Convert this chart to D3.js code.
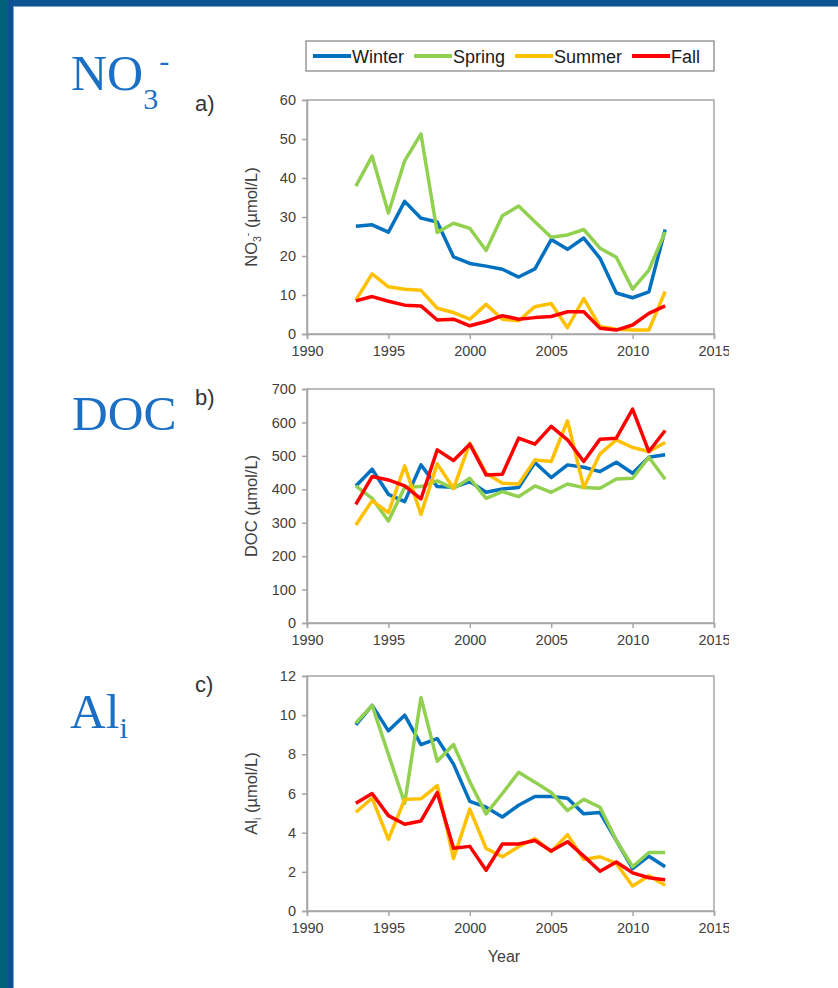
<!DOCTYPE html>
<html>
<head>
<meta charset="utf-8">
<script src="https://cdn.jsdelivr.net/npm/d3@7"></script>
<style>
    html, body { margin: 0; padding: 0; background: #fff; }
    svg { display: block; font-family: "Liberation Sans", Arial, sans-serif; }
</style>
</head>
<body>
<svg id="chart" width="838" height="988"></svg>
<script>
// --- data ---
const years = d3.range(1993, 2013);
const seasons = ['Winter', 'Spring', 'Summer', 'Fall'];
const seasonColors = ['#0070c0', '#92d050', '#ffc000', '#ff0000'];

const xTicks = [1990, 1995, 2000, 2005, 2010, 2015];
const no3Ticks = [0, 10, 20, 30, 40, 50, 60];
const docTicks = [0, 100, 200, 300, 400, 500, 600, 700];
const alTicks = [0, 2, 4, 6, 8, 10, 12];

const no3Winter = [27.6, 28, 26.1, 34, 29.7, 28.7, 19.8, 18.1, 17.4, 16.6, 14.6, 16.7, 24.2, 21.7, 24.6, 19.4, 10.5, 9.3, 10.8, 26.8];
const no3Spring = [37.9, 45.6, 31.0, 44.4, 51.3, 26.0, 28.4, 27.1, 21.4, 30.3, 32.8, 28.8, 24.8, 25.4, 26.8, 22.0, 19.7, 11.5, 16.4, 26.2];
const no3Summer = [8.7, 15.4, 12.1, 11.5, 11.2, 6.6, 5.5, 3.8, 7.6, 3.8, 3.4, 7.0, 7.8, 1.6, 9.1, 1.9, 1.2, 1.0, 1.0, 10.9];
const no3Fall = [8.5, 9.6, 8.4, 7.4, 7.2, 3.6, 3.8, 2.1, 3.2, 4.7, 3.8, 4.2, 4.5, 5.7, 5.7, 1.5, 1.0, 2.3, 5.3, 7.2];

const docWinter = [410, 460, 385, 363, 473, 408, 406, 423, 391, 401, 405, 480, 435, 473, 466, 453, 481, 448, 496, 503];
const docSpring = [410, 373, 305, 406, 408, 425, 402, 433, 373, 393, 378, 410, 391, 416, 405, 403, 431, 433, 496, 430];
const docSummer = [293, 366, 330, 470, 325, 476, 403, 538, 448, 418, 416, 488, 483, 605, 405, 506, 548, 525, 513, 540];
const docFall = [355, 438, 428, 410, 371, 518, 486, 535, 443, 445, 553, 535, 588, 548, 483, 550, 553, 640, 513, 576];

const alWinter = [9.5, 10.5, 9.2, 10.0, 8.5, 8.8, 7.5, 5.6, 5.3, 4.8, 5.4, 5.85, 5.85, 5.76, 4.96, 5.03, 3.6, 2.17, 2.8, 2.26];
const alSpring = [9.6, 10.5, 8.0, 5.5, 10.9, 7.65, 8.5, 6.6, 4.96, 6.0, 7.08, 6.58, 6.05, 5.13, 5.7, 5.3, 3.6, 2.26, 2.99, 2.99];
const alSummer = [5.04, 5.76, 3.66, 5.7, 5.73, 6.4, 2.68, 5.2, 3.2, 2.77, 3.28, 3.7, 3.03, 3.9, 2.63, 2.77, 2.43, 1.28, 1.8, 1.32];
const alFall = [5.5, 6.0, 4.87, 4.43, 4.6, 6.05, 3.2, 3.3, 2.08, 3.42, 3.42, 3.6, 3.06, 3.54, 2.8, 2.03, 2.5, 1.95, 1.7, 1.6];

// --- layout ---
const svg = d3.select('#chart');
const plotLeft = 307, plotRight = 714;
const gray = '#a6a6a6';
const textColor = '#404040';
const bigBlue = '#1b70c6';

// frame of the slide
svg.append('rect').attr('x', 0).attr('y', 0).attr('width', 8).attr('height', 988).attr('fill', '#00627a');
svg.append('rect').attr('x', 8).attr('y', 0).attr('width', 830).attr('height', 6).attr('fill', '#0c5590');
svg.append('rect').attr('x', 8).attr('y', 0).attr('width', 5).attr('height', 988).attr('fill', '#0b4f94');
svg.append('rect').attr('x', 13).attr('y', 6).attr('width', 1).attr('height', 982).attr('fill', '#7ea6d6');
svg.append('rect').attr('x', 13).attr('y', 6).attr('width', 825).attr('height', 1).attr('fill', '#7ea6d6');

// the pasted figure is cut just right of the last tick label
svg.append('defs').append('clipPath').attr('id', 'figClip')
    .append('rect').attr('x', 14).attr('y', 7).attr('width', 715).attr('height', 981);

const fig = svg.append('g').attr('clip-path', 'url(#figClip)');

const x = d3.scaleLinear().domain([1990, 2015]).range([plotLeft, plotRight]);

const panels = [
    { key: 'a)', top: 100, bottom: 334, max: 60, ticks: no3Ticks, series: [no3Winter, no3Spring, no3Summer, no3Fall], labelY: 111, title: 'no3' },
    { key: 'b)', top: 389, bottom: 623, max: 700, ticks: docTicks, series: [docWinter, docSpring, docSummer, docFall], labelY: 405, title: 'doc' },
    { key: 'c)', top: 676, bottom: 911, max: 12, ticks: alTicks, series: [alWinter, alSpring, alSummer, alFall], labelY: 692, title: 'al' }
];

panels.forEach((p) => {
    const y = d3.scaleLinear().domain([0, p.max]).range([p.bottom, p.top]);
    const g = fig.append('g');

    // plot frame
    g.append('rect')
        .attr('x', plotLeft).attr('y', p.top)
        .attr('width', plotRight - plotLeft).attr('height', p.bottom - p.top)
        .attr('fill', 'none').attr('stroke', gray).attr('stroke-width', 1.5);

    const xAxis = g.append('g')
        .attr('transform', `translate(0,${p.bottom})`)
        .call(d3.axisBottom(x).tickValues(xTicks).tickFormat(d3.format('d')).tickSizeOuter(0).tickSize(5).tickPadding(7));

    const yAxis = g.append('g')
        .attr('transform', `translate(${plotLeft},0)`)
        .call(d3.axisLeft(y).tickValues(p.ticks).tickSizeOuter(0).tickSize(5).tickPadding(6));

    [xAxis, yAxis].forEach((ax) => {
        ax.select('.domain').attr('stroke', gray).attr('stroke-width', 1.5);
        ax.selectAll('.tick line').attr('stroke', gray).attr('stroke-width', 1.5);
        ax.selectAll('.tick text')
            .attr('fill', textColor)
            .style('font-size', '14.5px')
            .style('font-family', '"Liberation Sans", Arial, sans-serif');
    });

    const line = d3.line().x((d, i) => x(years[i])).y((d) => y(d));
    p.series.forEach((vals, si) => {
        g.append('path')
            .datum(vals)
            .attr('fill', 'none')
            .attr('stroke', seasonColors[si])
            .attr('stroke-width', 3.5)
            .attr('stroke-linejoin', 'round')
            .attr('d', line);
    });

    // panel letter
    g.append('text')
        .attr('x', 195).attr('y', p.labelY)
        .attr('fill', '#333')
        .style('font-size', '22px')
        .text(p.key);

    // y axis title
    const mid = (p.top + p.bottom) / 2;
    const t = g.append('text')
        .attr('transform', `translate(257,${mid}) rotate(-90)`)
        .attr('text-anchor', 'middle')
        .attr('fill', textColor)
        .style('font-size', '16.5px');
    if (p.title === 'no3') {
        t.append('tspan').text('NO');
        t.append('tspan').attr('dy', 4).style('font-size', '10.5px').text('3');
        t.append('tspan').attr('dy', -10).style('font-size', '10.5px').text('-');
        t.append('tspan').attr('dy', 6).text(' (µmol/L)');
    } else if (p.title === 'doc') {
        t.text('DOC (µmol/L)');
    } else {
        t.append('tspan').text('Al');
        t.append('tspan').attr('dy', 4).style('font-size', '10.5px').text('i');
        t.append('tspan').attr('dy', -4).text(' (µmol/L)');
    }
});

// x axis title
fig.append('text')
    .attr('x', 504).attr('y', 962)
    .attr('text-anchor', 'middle')
    .attr('fill', textColor)
    .style('font-size', '16px')
    .text('Year');

// legend
const legend = fig.append('g');
legend.append('rect')
    .attr('x', 306).attr('y', 41).attr('width', 408).attr('height', 30)
    .attr('fill', '#fff').attr('stroke', '#7f7f7f').attr('stroke-width', 1.2);
let lx = 313;
seasons.forEach((s, i) => {
    legend.append('line')
        .attr('x1', lx).attr('x2', lx + 38).attr('y1', 56).attr('y2', 56)
        .attr('stroke', seasonColors[i]).attr('stroke-width', 4);
    const txt = legend.append('text')
        .attr('x', lx + 39).attr('y', 62.5)
        .attr('fill', '#1a1a1a')
        .style('font-size', '18px')
        .text(s);
    lx += 39 + txt.node().getComputedTextLength() + 10;
});

// big serif labels on the left
const serif = '"Liberation Serif", "Times New Roman", serif';
const no3Label = svg.append('text')
    .attr('x', 71).attr('y', 90)
    .attr('fill', bigBlue)
    .style('font-family', serif)
    .style('font-size', '50px');
no3Label.append('tspan').text('NO');
no3Label.append('tspan').attr('dy', 19).style('font-size', '30px').text('3');
no3Label.append('tspan').attr('dy', -38).attr('dx', 1).style('font-size', '30px').text('-');

svg.append('text')
    .attr('x', 72).attr('y', 430)
    .attr('fill', bigBlue)
    .style('font-family', serif)
    .style('font-size', '49.5px')
    .text('DOC');

const alLabel = svg.append('text')
    .attr('x', 70).attr('y', 728)
    .attr('fill', bigBlue)
    .style('font-family', serif)
    .style('font-size', '49.5px');
alLabel.append('tspan').text('Al');
alLabel.append('tspan').attr('dy', 10).style('font-size', '30px').text('i');
</script>
</body>
</html>
